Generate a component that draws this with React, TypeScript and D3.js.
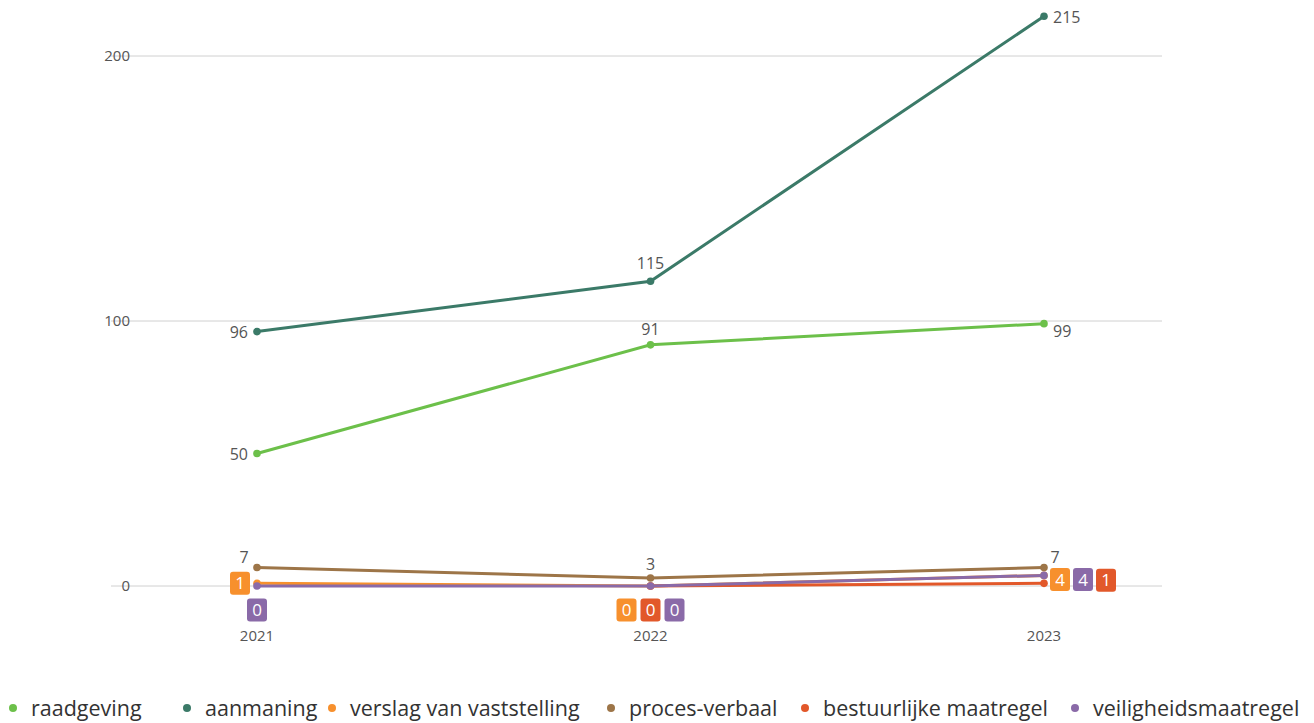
import React from 'react';
import * as d3 from 'd3';

const years = ['2021', '2022', '2023'];
const raadgeving = [50, 91, 99];
const aanmaning = [96, 115, 215];
const verslag = [1, 0, 4];
const procesVerbaal = [7, 3, 7];
const bestuurlijke: (number | null)[] = [null, 0, 1];
const veiligheids = [0, 0, 4];
const yTicks = [0, 100, 200];

const seriesNames = ['raadgeving', 'aanmaning', 'verslag van vaststelling', 'proces-verbaal', 'bestuurlijke maatregel', 'veiligheidsmaatregel'];
const seriesValues: (number | null)[][] = [raadgeving, aanmaning, verslag, procesVerbaal, bestuurlijke, veiligheids];
const colors = ['#6cc04a', '#3b7a68', '#f7902d', '#9d7548', '#e2582a', '#8a6aa8'];

type Lab = { kind: 'text' | 'badge'; dx: number; dy: number; anchor?: string } | null;
const labelLayout: Lab[][] = [
  [{ kind: 'text', dx: -9, dy: 1, anchor: 'end' }, { kind: 'text', dx: 0, dy: -15, anchor: 'middle' }, { kind: 'text', dx: 9, dy: 8, anchor: 'start' }],
  [{ kind: 'text', dx: -9, dy: 1, anchor: 'end' }, { kind: 'text', dx: 0, dy: -18, anchor: 'middle' }, { kind: 'text', dx: 9, dy: 1, anchor: 'start' }],
  [{ kind: 'badge', dx: -17, dy: 0 }, { kind: 'badge', dx: -24, dy: 24 }, { kind: 'badge', dx: 16, dy: 4 }],
  [{ kind: 'text', dx: -13, dy: -10, anchor: 'middle' }, { kind: 'text', dx: 0, dy: -14, anchor: 'middle' }, { kind: 'text', dx: 11, dy: -10, anchor: 'middle' }],
  [null, { kind: 'badge', dx: 0, dy: 24 }, { kind: 'badge', dx: 62, dy: -3 }],
  [{ kind: 'badge', dx: 0, dy: 24 }, { kind: 'badge', dx: 24, dy: 24 }, { kind: 'badge', dx: 39, dy: 4 }],
];
const legendX = [13, 187, 332, 611, 805, 1075];

const FONT = '"Open Sans", "Noto Sans", sans-serif';

export default function App() {
  const width = 1314;
  const height = 723;
  const x = d3.scalePoint<string>().domain(years).range([257, 1044]).padding(0);
  const y = d3.scaleLinear().domain([0, 200]).range([586, 56]);
  const gridX0 = 111;
  const gridX1 = 1162;

  return (
    <svg width={width} height={height} style={{ position: 'absolute', left: 0, top: 0, fontFamily: FONT }}>
      {yTicks.map((t) => (
        <g key={t}>
          <line x1={gridX0} x2={gridX1} y1={y(t)} y2={y(t)} stroke="#d0d0d0" strokeWidth={1} />
          <text x={130} y={y(t)} dy="0.35em" textAnchor="end" fontSize={15} fill="#555">{t}</text>
        </g>
      ))}
      {years.map((yr) => (
        <text key={yr} x={x(yr)} y={636} dy="0.35em" textAnchor="middle" fontSize={15} fill="#555">{yr}</text>
      ))}
      {seriesValues.map((vals, si) => {
        const pts = vals.map((v, i) => ({ v, yr: years[i] })).filter((p) => p.v !== null) as { v: number; yr: string }[];
        const line = d3.line<{ v: number; yr: string }>().x((d) => x(d.yr)!).y((d) => y(d.v));
        return (
          <g key={si}>
            <path d={line(pts) || ''} fill="none" stroke={colors[si]} strokeWidth={3} />
            {pts.map((p) => (
              <circle key={p.yr} cx={x(p.yr)} cy={y(p.v)} r={3.8} fill={colors[si]} />
            ))}
          </g>
        );
      })}
      {seriesValues.map((vals, si) =>
        vals.map((v, i) => {
          const lab = labelLayout[si][i];
          if (v === null || !lab) return null;
          const px = x(years[i])!;
          const py = y(v);
          if (lab.kind === 'text') {
            return (
              <text key={`${si}-${i}`} x={px + lab.dx} y={py + lab.dy} dy="0.35em" textAnchor={lab.anchor as any} fontSize={16} fill="#555">{v}</text>
            );
          }
          const cx = px + lab.dx;
          const cy = py + lab.dy;
          return (
            <g key={`${si}-${i}`}>
              <rect x={cx - 10} y={cy - 11.5} width={20} height={23} rx={3} fill={colors[si]} />
              <text x={cx} y={cy} dy="0.36em" textAnchor="middle" fontSize={17} fill="#fff">{v}</text>
            </g>
          );
        })
      )}
      {seriesNames.map((n, i) => (
        <g key={n}>
          <circle cx={legendX[i]} cy={708} r={4} fill={colors[i]} />
          <text x={legendX[i] + 18} y={708} dy="0.35em" fontSize={21.5} fill="#333">{n}</text>
        </g>
      ))}
    </svg>
  );
}
